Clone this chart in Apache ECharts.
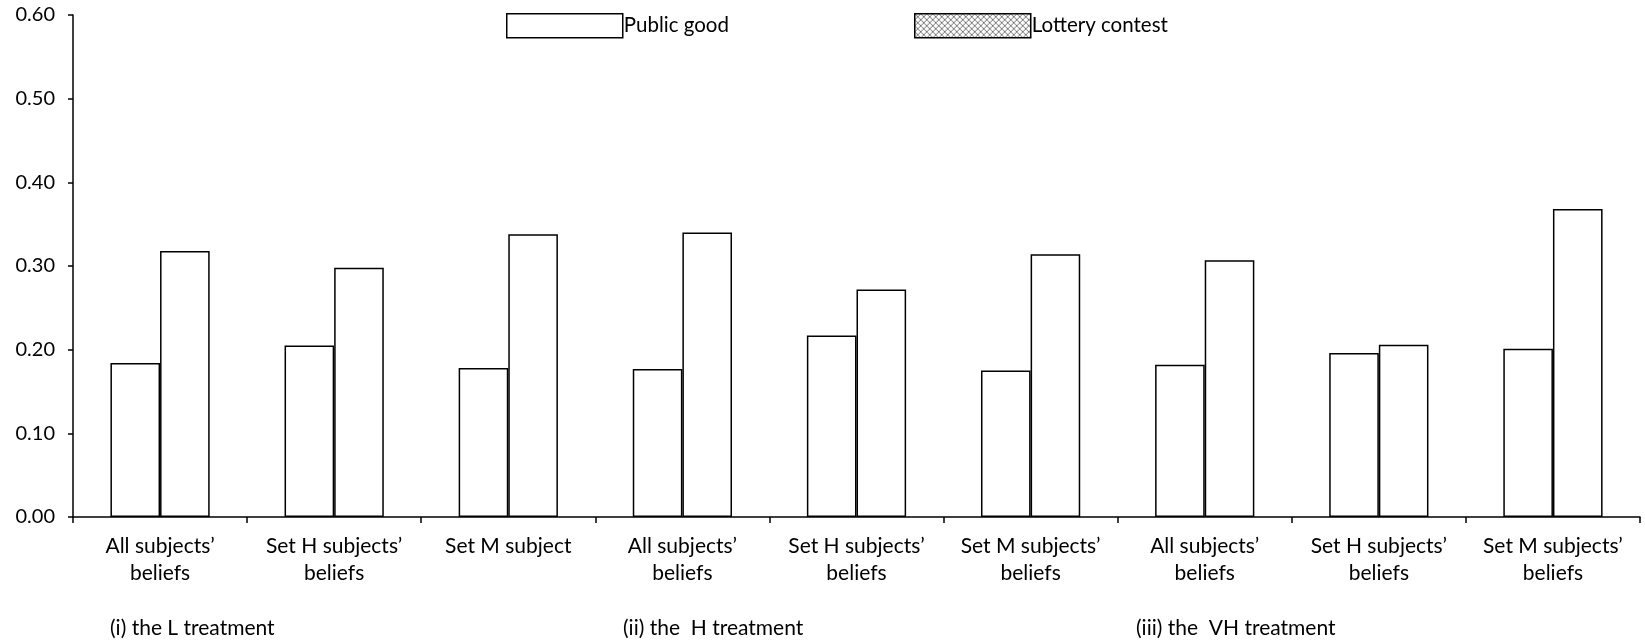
<!DOCTYPE html>
<html><head><meta charset="utf-8">
<script src="https://cdn.jsdelivr.net/npm/echarts@6/dist/echarts.min.js"></script>
<style>html,body{margin:0;padding:0;background:#fff}#c{width:1645px;height:643px}</style>
</head><body><div id="c"></div>
<script>
const categories = [
  'All subjects’\nbeliefs', 'Set H subjects’\nbeliefs', 'Set M subject',
  'All subjects’\nbeliefs', 'Set H subjects’\nbeliefs', 'Set M subjects’\nbeliefs',
  'All subjects’\nbeliefs', 'Set H subjects’\nbeliefs', 'Set M subjects’\nbeliefs'
];
const publicGood     = [0.184, 0.205, 0.178, 0.177, 0.217, 0.175, 0.182, 0.196, 0.201];
const lotteryContest = [0.318, 0.298, 0.338, 0.340, 0.272, 0.314, 0.307, 0.206, 0.368];
const seriesNames = ['Public good', 'Lottery contest'];
const yMin = 0, yMax = 0.6, yInterval = 0.1;
const treatmentLabels = ['(i) the L treatment', '(ii) the  H treatment', '(iii) the  VH treatment'];

const FONT = 'Lato, "Open Sans", sans-serif';
const FS = 21;

// crosshatch pattern for legend icon
const pc = document.createElement('canvas');
pc.width = 6; pc.height = 6;
const g = pc.getContext('2d');
g.fillStyle = '#fff'; g.fillRect(0, 0, 6, 6);
g.strokeStyle = '#777'; g.lineWidth = 1;
g.beginPath(); g.moveTo(0, 0); g.lineTo(6, 6); g.moveTo(6, 0); g.lineTo(0, 6); g.stroke();
const hatch = { image: pc, repeat: 'repeat' };

const chart = echarts.init(document.getElementById('c'), null, { renderer: 'canvas' });
const barStyle = { color: '#fff', borderColor: '#000', borderWidth: 1.5 };
const legendText = { fontSize: 20.5, color: '#000', fontFamily: FONT, padding: [0, 0, 0, -4] };
chart.setOption({
  animation: false,
  textStyle: { fontFamily: FONT },
  grid: { left: 73, right: 5, top: 15, bottom: 126, containLabel: false },
  legend: [
    { left: 506, top: 13, padding: 0, itemWidth: 116, itemHeight: 24, icon: 'rect',
      data: [{ name: seriesNames[0], itemStyle: { color: '#fff', borderColor: '#000', borderWidth: 1.5 } }],
      textStyle: legendText },
    { left: 914, top: 13, padding: 0, itemWidth: 116, itemHeight: 24, icon: 'rect',
      data: [{ name: seriesNames[1], itemStyle: { color: hatch, borderColor: '#000', borderWidth: 1.5 } }],
      textStyle: legendText }
  ],
  xAxis: {
    type: 'category', data: categories,
    axisLine: { lineStyle: { color: '#000', width: 1.5 } },
    axisTick: { show: true, length: 6, lineStyle: { color: '#000', width: 1.5 } },
    axisLabel: { interval: 0, fontSize: FS, lineHeight: 27, color: '#000', margin: 16, fontFamily: FONT },
    splitLine: { show: false }
  },
  yAxis: {
    type: 'value', min: yMin, max: yMax, interval: yInterval,
    axisLine: { show: true, lineStyle: { color: '#000', width: 1.5 } },
    axisTick: { show: true, length: 5, lineStyle: { color: '#000', width: 1.5 } },
    axisLabel: { fontSize: 20, color: '#000', margin: 18, fontFamily: FONT, formatter: v => v.toFixed(2) },
    splitLine: { show: false }
  },
  series: [
    { name: seriesNames[0], type: 'bar', data: publicGood, barGap: '0%', barCategoryGap: '43%', itemStyle: barStyle },
    { name: seriesNames[1], type: 'bar', data: lotteryContest, barGap: '0%', barCategoryGap: '43%', itemStyle: barStyle }
  ],
  graphic: treatmentLabels.map((t, i) => ({
    type: 'text', x: [110, 623, 1136][i], y: 628,
    style: { text: t, fontSize: FS, fill: '#000', fontFamily: FONT, textVerticalAlign: 'middle' }
  }))
});
</script>
</body></html>
